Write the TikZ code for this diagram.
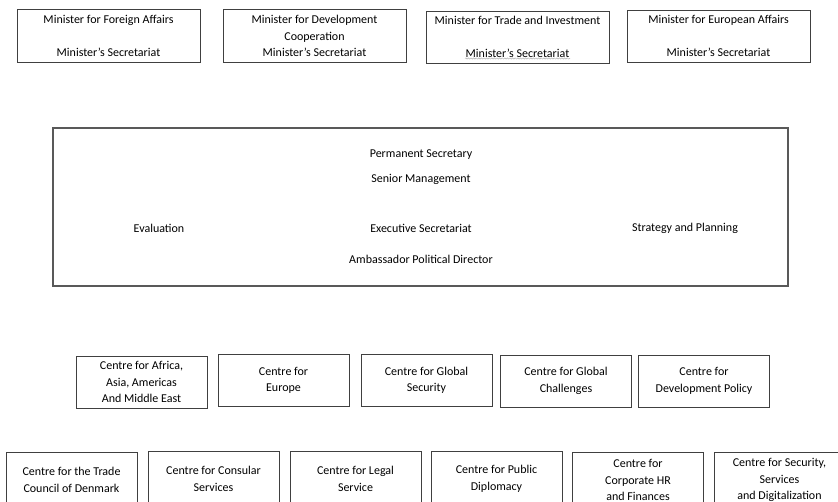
\documentclass[tikz,border=0pt]{standalone}
\usepackage{fontspec}
\setmainfont{Carlito}
\usetikzlibrary{decorations.pathmorphing}
\begin{document}
\begin{tikzpicture}[x=1pt,y=-1pt,
  fnt/.style={font=\fontsize{12}{16.5}\selectfont},
  minbox/.style={fnt, draw=black!75, line width=0.9pt, rectangle, minimum width=183pt, minimum height=53pt, inner sep=0pt, align=center},
  centrebox/.style={fnt, draw=black!75, line width=0.9pt, rectangle, minimum width=131pt, minimum height=52pt, inner sep=0pt, align=center},
  lowbox/.style={centrebox, minimum height=56pt},
  bigbox/.style={draw=black!65, line width=1.3pt, rectangle, minimum width=735pt, minimum height=158pt, inner sep=0pt},
  txt/.style={fnt, inner sep=0pt},
  squiggle/.style={decorate, decoration={snake, amplitude=0.6pt, segment length=2.6pt}, black!30, line width=0.5pt}]
\clip (0,0) rectangle (838,502);
\fill[white] (0,0) rectangle (838,502);

% Ministers
\node[minbox] (fa) at (108.5,35.5) {Minister for Foreign Affairs\\[16.5pt]Minister’s Secretariat};
\node[minbox] (dc) at (314.5,36) {Minister for Development\\Cooperation\\Minister’s Secretariat};
\node[minbox, minimum height=52pt] (ti) at (517.5,37) {Minister for Trade and Investment\\[16.5pt]Minister’s Secretariat};
\node[minbox, minimum height=52pt] (ea) at (718.5,36) {Minister for European Affairs\\[16.5pt]Minister’s Secretariat};
\coordinate (sqA) at (465,58.5);
\coordinate (sqB) at (570,58.5);
\draw[squiggle] (sqA) -- (sqB);

% Senior management block
\node[bigbox] (mgmt) at (420.5,207) {};
\node[txt] (ps) at (421,155) {Permanent Secretary};
\node[txt] (sm) at (421,179) {Senior Management};
\node[txt] (ev) at (159,228) {Evaluation};
\node[txt] (es) at (421,228) {Executive Secretariat};
\node[txt] (sp) at (685,228) {Strategy and Planning};
\node[txt] (ap) at (421,259) {Ambassador Political Director};

% Centres, middle row
\node[centrebox] (c1) at (141.5,382) {Centre for Africa,\\Asia, Americas\\And Middle East};
\node[centrebox] (c2) at (283.5,380.5) {Centre for\\Europe};
\node[centrebox] (c3) at (426.5,380.5) {Centre for Global\\Security};
\node[centrebox] (c4) at (566,381) {Centre for Global\\Challenges};
\node[centrebox] (c5) at (704,381) {Centre for\\Development Policy};

% Centres, bottom row
\node[lowbox] (d1) at (71.5,480) {Centre for the Trade\\Council of Denmark};
\node[lowbox] (d2) at (213.5,479) {Centre for Consular\\Services};
\node[lowbox] (d3) at (355.5,479) {Centre for Legal\\Service};
\node[lowbox] (d4) at (496.5,479) {Centre for Public\\Diplomacy};
\node[lowbox] (d5) at (638,480) {Centre for\\Corporate HR\\and Finances};
\node[lowbox] (d6) at (779.5,480) {Centre for Security,\\Services\\and Digitalization};
\end{tikzpicture}
\end{document}
